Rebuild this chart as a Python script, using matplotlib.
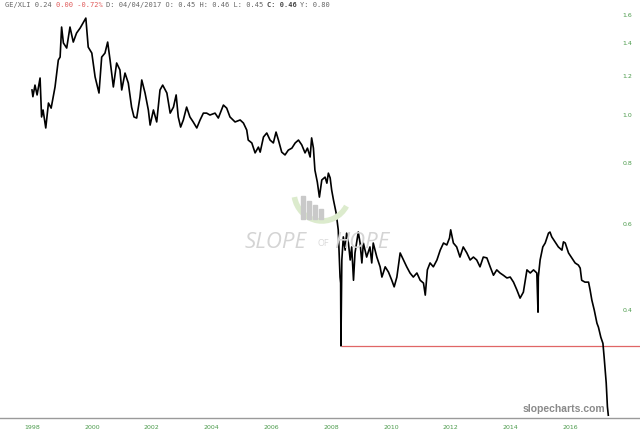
import numpy as np
import matplotlib
matplotlib.use("Agg")
import matplotlib.pyplot as plt
from matplotlib.patches import Rectangle, Arc

# GE/XLI ratio (decimal year, ratio)
years = [
    1998.00, 1998.03, 1998.10, 1998.17, 1998.27, 1998.32, 1998.37, 1998.46, 1998.55, 1998.64,
    1998.77, 1998.88, 1998.94, 1998.99, 1999.05, 1999.16, 1999.27, 1999.38, 1999.49, 1999.61,
    1999.80, 1999.88, 2000.00, 2000.11, 2000.24, 2000.33, 2000.44, 2000.53, 2000.61, 2000.72,
    2000.83, 2000.94, 2001.00, 2001.11, 2001.22, 2001.33, 2001.41, 2001.50, 2001.61, 2001.67,
    2001.78, 2001.89, 2001.95, 2002.06, 2002.17, 2002.28, 2002.37, 2002.51, 2002.62, 2002.73,
    2002.82, 2002.89, 2002.97, 2003.06, 2003.17, 2003.28, 2003.39, 2003.51, 2003.62, 2003.73,
    2003.84, 2003.95, 2004.12, 2004.23, 2004.40, 2004.51, 2004.62, 2004.79, 2004.96, 2005.07,
    2005.18, 2005.23, 2005.35, 2005.46, 2005.57, 2005.63, 2005.74, 2005.85, 2005.96, 2006.07,
    2006.16, 2006.24, 2006.35, 2006.46, 2006.57, 2006.69, 2006.80, 2006.91, 2007.02, 2007.13,
    2007.21, 2007.30, 2007.35, 2007.41, 2007.46, 2007.54, 2007.61, 2007.69, 2007.80, 2007.86,
    2007.91, 2007.97, 2008.02, 2008.08, 2008.17, 2008.24, 2008.30, 2008.32, 2008.33, 2008.36,
    2008.41, 2008.47, 2008.52, 2008.58, 2008.64, 2008.69, 2008.75, 2008.80, 2008.91, 2008.97,
    2009.03, 2009.08, 2009.19, 2009.30, 2009.36, 2009.41, 2009.53, 2009.64, 2009.70, 2009.81,
    2009.92, 2010.03, 2010.11, 2010.20, 2010.31, 2010.42, 2010.53, 2010.64, 2010.75, 2010.87,
    2010.98, 2011.09, 2011.15, 2011.22, 2011.31, 2011.42, 2011.54, 2011.65, 2011.76, 2011.87,
    2011.96, 2012.00, 2012.09, 2012.20, 2012.31, 2012.42, 2012.54, 2012.65, 2012.76, 2012.87,
    2012.98, 2013.09, 2013.21, 2013.32, 2013.43, 2013.54, 2013.65, 2013.76, 2013.88, 2013.99,
    2014.10, 2014.21, 2014.32, 2014.43, 2014.55, 2014.66, 2014.77, 2014.88, 2014.92, 2014.93,
    2014.99, 2015.08, 2015.16, 2015.27, 2015.32, 2015.38, 2015.49, 2015.60, 2015.72, 2015.77,
    2015.83, 2015.94, 2016.05, 2016.16, 2016.27, 2016.33, 2016.38, 2016.49, 2016.61, 2016.66,
    2016.72, 2016.80, 2016.89, 2016.94, 2017.02, 2017.09, 2017.13, 2017.20, 2017.24, 2017.27,
]
ratio = [
    1.125, 1.090, 1.151, 1.099, 1.190, 0.991, 1.024, 0.941, 1.058, 1.033,
    1.141, 1.295, 1.313, 1.512, 1.403, 1.370, 1.512, 1.409, 1.470, 1.505,
    1.577, 1.376, 1.338, 1.196, 1.109, 1.313, 1.338, 1.409, 1.295, 1.141,
    1.277, 1.236, 1.125, 1.218, 1.162, 1.038, 0.991, 0.986, 1.088, 1.179,
    1.109, 1.024, 0.954, 1.024, 0.968, 1.125, 1.151, 1.109, 1.009, 1.038,
    1.099, 0.991, 0.945, 0.977, 1.038, 0.991, 0.968, 0.941, 0.977, 1.009,
    1.009, 1.000, 1.009, 0.986, 1.048, 1.033, 0.991, 0.968, 0.977, 0.963,
    0.932, 0.889, 0.877, 0.837, 0.860, 0.840, 0.902, 0.919, 0.889, 0.877,
    0.923, 0.889, 0.840, 0.829, 0.848, 0.856, 0.877, 0.889, 0.869, 0.837,
    0.856, 0.821, 0.898, 0.856, 0.772, 0.730, 0.680, 0.737, 0.747, 0.726,
    0.761, 0.744, 0.703, 0.671, 0.631, 0.583, 0.467, 0.454, 0.338, 0.506,
    0.564, 0.530, 0.574, 0.548, 0.506, 0.538, 0.460, 0.523, 0.577, 0.548,
    0.499, 0.548, 0.513, 0.538, 0.499, 0.548, 0.513, 0.490, 0.467, 0.490,
    0.478, 0.460, 0.446, 0.467, 0.523, 0.506, 0.490, 0.476, 0.467, 0.476,
    0.460, 0.454, 0.429, 0.483, 0.499, 0.490, 0.506, 0.530, 0.548, 0.543,
    0.561, 0.583, 0.548, 0.538, 0.513, 0.538, 0.523, 0.506, 0.513, 0.506,
    0.490, 0.513, 0.511, 0.490, 0.471, 0.483, 0.476, 0.471, 0.465, 0.467,
    0.456, 0.440, 0.423, 0.435, 0.483, 0.476, 0.483, 0.476, 0.396, 0.467,
    0.506, 0.538, 0.548, 0.574, 0.577, 0.564, 0.551, 0.538, 0.530, 0.551,
    0.548, 0.523, 0.511, 0.499, 0.494, 0.487, 0.460, 0.456, 0.456, 0.440,
    0.419, 0.400, 0.376, 0.369, 0.352, 0.342, 0.321, 0.284, 0.254, 0.244,
]

support_start = 2008.33
support_level = 0.338

year_ticks = [1998, 2000, 2002, 2004, 2006, 2008, 2010, 2012, 2014, 2016]
ratio_ticks = [0.4, 0.6, 0.8, 1.0, 1.2, 1.4, 1.6]

W, H = 640, 440
fig = plt.figure(figsize=(6.4, 4.4), dpi=100)
fig.patch.set_facecolor("white")


def px(x, y):
    # pixel position (from top-left) -> figure fraction
    return x / W, 1 - y / H


ax = fig.add_axes([0, 22 / H, 1, 418 / H])
ax.set_facecolor("none")
ax.plot(years, ratio, color="black", lw=1.2, zorder=3)
ax.hlines(support_level, support_start, 2018.4, color="#e06666", lw=0.9, zorder=2)

ax.set_yscale("log")
ax.set_xlim(1996.93, 2018.33)
ax.set_ylim(0.2408, 1.717)

ax.set_xticks(year_ticks)
ax.set_xticklabels([str(y) for y in year_ticks])
ax.set_yticks(ratio_ticks)
ax.set_yticklabels([f"{v:.1f}" for v in ratio_ticks])
ax.yaxis.set_minor_locator(matplotlib.ticker.NullLocator())
ax.yaxis.tick_right()
ax.tick_params(axis="y", length=0, pad=-12.5, labelsize=4.5, labelcolor="#4a9a4a")
ax.tick_params(axis="x", length=0, pad=5, labelsize=4.5, labelcolor="#4a9a4a")

for s in ["top", "left", "right"]:
    ax.spines[s].set_visible(False)
ax.spines["bottom"].set_color("#9a9a9a")
ax.spines["bottom"].set_linewidth(1.0)

# watermark logo: green swoosh under four grey bars
cx, cy = px(322, 192)
fig.patches.append(Arc((cx, cy), 56 / W, 58 / H, theta1=195, theta2=320,
                       transform=fig.transFigure, color="#dcebcd", lw=4, zorder=0))
bars = [(301, 196), (307, 201), (313, 205), (319, 209)]
for bx, by in bars:
    x0, y0 = px(bx, 219)
    x1, y1 = px(bx + 4, by)
    fig.patches.append(Rectangle((x0, y0), x1 - x0, y1 - y0, transform=fig.transFigure,
                                 color="#c9c9c9", zorder=0))
fig.text(*px(245, 248), "SLOPE", fontsize=16, style="italic", color="#d4d4d4",
         family="Open Sans", ha="left", va="baseline", zorder=0)
fig.text(*px(317, 246), "OF", fontsize=6.5, color="#dadada", family="Open Sans",
         ha="left", va="baseline", zorder=0)
fig.text(*px(334, 248), "HOPE", fontsize=16, style="italic", color="#d4d4d4",
         family="Open Sans", ha="left", va="baseline", zorder=0)

fig.text(*px(605, 412), "slopecharts.com", fontsize=7.5, fontweight="bold",
         color="#8a8a8a", family="Liberation Sans", ha="right", va="baseline")

# header line
pieces = [
    ("GE/XLI 0.24 ", "#666666", "normal"),
    ("0.00 -0.72% ", "#e05a5a", "normal"),
    ("D: 04/04/2017 O: 0.45 H: 0.46 L: 0.45 ", "#666666", "normal"),
    ("C: 0.46 ", "#444444", "bold"),
    ("Y: 0.80", "#666666", "normal"),
]
col = 0
for txt, c, w in pieces:
    fig.text(*px(5 + col * 4.22, 5), txt, fontsize=5, family="DejaVu Sans Mono",
             color=c, fontweight=w, ha="left", va="center")
    col += len(txt)

fig.savefig("out.png", dpi=100, facecolor="white")
